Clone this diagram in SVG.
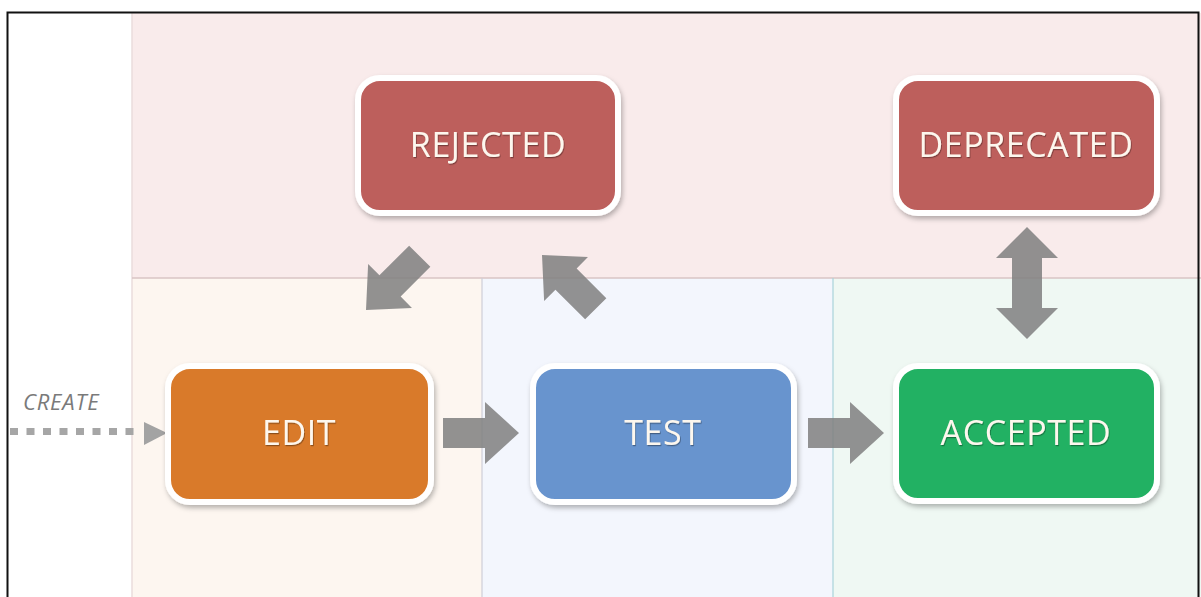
<svg xmlns="http://www.w3.org/2000/svg" width="1201" height="597" viewBox="0 0 1201 597">
  <defs>
    <filter id="sh" x="-10%" y="-10%" width="125%" height="130%">
      <feDropShadow dx="1.5" dy="3" stdDeviation="2.5" flood-color="#000" flood-opacity="0.28"/>
    </filter>
    <filter id="tsh" x="-5%" y="-20%" width="110%" height="150%">
      <feDropShadow dx="0.8" dy="1.2" stdDeviation="0.6" flood-color="#000" flood-opacity="0.35"/>
    </filter>
    <path id="blk" d="M-76,-15 H-34 V-31 L0,0 L-34,31 V15 H-76 Z"/>
  </defs>
  <style>
    .node rect { stroke: #ffffff; stroke-width: 6; filter: url(#sh); }
    .node text { font-family: "Open Sans", "Noto Sans", sans-serif; font-size: 34px; letter-spacing: 0.6px; fill: #fdf7ee; text-anchor: middle; filter: url(#tsh); }
    .blk { fill: #808080; fill-opacity: 0.86; }
  </style>

  <!-- background regions -->
  <rect x="0" y="0" width="1201" height="597" fill="#ffffff"/>
  <rect x="132" y="13" width="1069" height="265" fill="#f9ebeb"/>
  <rect x="132" y="278" width="350" height="319" fill="#fdf6f0"/>
  <rect x="482" y="278" width="351" height="319" fill="#f3f6fd"/>
  <rect x="833" y="278" width="368" height="319" fill="#eff8f3"/>
  <line x1="132" y1="13" x2="132" y2="597" stroke="#eadcdc" stroke-width="1.5"/>
  <line x1="132" y1="278" x2="1201" y2="278" stroke="#d8c4c4" stroke-width="1.5"/>
  <line x1="482" y1="278" x2="482" y2="597" stroke="#cfcfd8" stroke-width="1.2"/>
  <line x1="833" y1="278" x2="833" y2="597" stroke="#a8d4da" stroke-width="1.2"/>
  <rect x="7.5" y="12.5" width="1191" height="600" fill="none" stroke="#111111" stroke-width="2"/>

  <!-- connectors -->
  <g id="connectors">
    <text x="23" y="410" font-family="Open Sans, Noto Sans, sans-serif" font-style="italic" font-size="22" letter-spacing="0.8" fill="#7a7a7a">CREATE</text>
    <line x1="10" y1="431.5" x2="136" y2="431.5" stroke="#a6a6a6" stroke-width="7" stroke-dasharray="8 8.5"/>
    <path d="M144,422 L167,433 L144,445 Z" fill="#a3a3a3"/>
    <use href="#blk" class="blk" transform="translate(519,433)"/>
    <use href="#blk" class="blk" transform="translate(884,433)"/>
    <use href="#blk" class="blk" transform="translate(366,310) rotate(135)"/>
    <use href="#blk" class="blk" transform="translate(542,255) rotate(-135)"/>
    <path class="blk" d="M1027,227 L1058,258 H1042 V308 H1058 L1027,339 L996,308 H1012 V258 H996 Z"/>
  </g>

  <!-- nodes -->
  <g id="rejected" class="node">
    <rect x="358" y="78" width="260" height="135" rx="22" fill="#bd5e5b"/>
    <text x="488" y="157">REJECTED</text>
  </g>
  <g id="deprecated" class="node">
    <rect x="896" y="78" width="261" height="135" rx="22" fill="#bd5e5b"/>
    <text x="1026" y="157">DEPRECATED</text>
  </g>
  <g id="edit" class="node">
    <rect x="168" y="366" width="263" height="136" rx="22" fill="#d97a2b"/>
    <text x="299" y="445">EDIT</text>
  </g>
  <g id="test" class="node">
    <rect x="533" y="366" width="261" height="136" rx="22" fill="#6894ce"/>
    <text x="663" y="445">TEST</text>
  </g>
  <g id="accepted" class="node">
    <rect x="896" y="366" width="261" height="135" rx="22" fill="#22b163"/>
    <text x="1026" y="445">ACCEPTED</text>
  </g>
</svg>
